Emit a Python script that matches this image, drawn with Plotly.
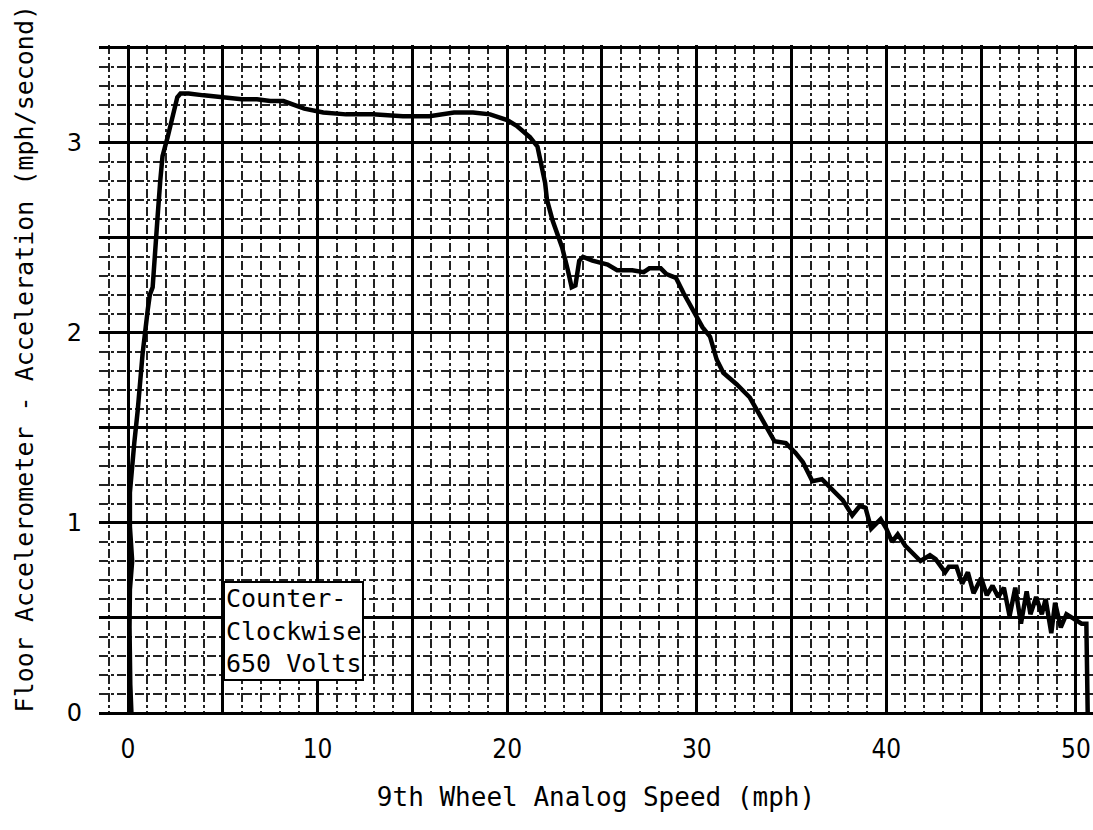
import plotly.graph_objects as go

# 9th wheel analog speed (mph)
speed_mph = [
    0.18, 0.12, 0.08, 0.10, 0.22, 0.18, 0.10, 0.10, 0.20, 0.33,
    0.51, 0.77, 1.04, 1.15, 1.30, 1.38, 1.47, 1.56, 1.70, 1.82,
    2.09, 2.35, 2.60, 2.77, 3.2, 4.0, 5.05, 6.0, 6.8, 7.5,
    8.2, 8.8, 9.3, 10.3, 11.5, 12.9, 14.5, 15.9, 16.5, 17.2,
    18.2, 19.1, 20.0, 20.5, 21.2, 21.6, 22.0, 22.1, 22.4, 22.9,
    23.2, 23.4, 23.6, 23.8, 24.0, 24.5, 25.3, 25.8, 26.6, 27.2,
    27.5, 28.1, 28.4, 28.9, 29.3, 29.8, 30.3, 30.7, 31.05, 31.4,
    32.1, 32.8, 33.3, 33.8, 34.1, 34.7, 35.2, 35.6, 36.1, 36.6,
    37.2, 37.7, 38.2, 38.6, 38.9, 39.2, 39.7, 40.0, 40.3, 40.6,
    41.0, 41.8, 42.3, 42.6, 43.1, 43.3, 43.7, 44.0, 44.3, 44.6,
    45.0, 45.3, 45.6, 45.9, 46.2, 46.5, 46.8, 47.1, 47.4, 47.6,
    47.9, 48.2, 48.4, 48.7, 48.9, 49.2, 49.5, 50.0, 50.3, 50.55,
    50.6, 50.62,
]

# Floor accelerometer acceleration (mph/second)
accel_mphps = [
    0.0, 0.15, 0.45, 0.65, 0.8, 0.9, 0.98, 1.16, 1.3, 1.42,
    1.59, 1.89, 2.12, 2.2, 2.24, 2.38, 2.5, 2.61, 2.8, 2.93,
    3.03, 3.14, 3.24, 3.26, 3.26, 3.25, 3.24, 3.23, 3.23, 3.22,
    3.22, 3.20, 3.18, 3.16, 3.15, 3.15, 3.14, 3.14, 3.15, 3.16,
    3.16, 3.15, 3.12, 3.09, 3.03, 2.98, 2.79, 2.70, 2.59, 2.45,
    2.33, 2.24, 2.25, 2.38, 2.40, 2.38, 2.36, 2.33, 2.33, 2.32,
    2.34, 2.34, 2.31, 2.29, 2.21, 2.12, 2.03, 1.98, 1.86, 1.79,
    1.73, 1.66, 1.57, 1.48, 1.43, 1.42, 1.37, 1.32, 1.22, 1.23,
    1.17, 1.12, 1.04, 1.09, 1.08, 0.97, 1.02, 0.97, 0.90, 0.94,
    0.88, 0.80, 0.83, 0.81, 0.74, 0.77, 0.77, 0.68, 0.74, 0.63,
    0.71, 0.62, 0.67, 0.61, 0.66, 0.51, 0.66, 0.47, 0.64, 0.52,
    0.61, 0.52, 0.60, 0.42, 0.58, 0.45, 0.52, 0.49, 0.47, 0.47,
    0.25, 0.0,
]

x_tickvals = [0, 5, 10, 15, 20, 25, 30, 35, 40, 45, 50]
x_ticktext = ["0", "", "10", "", "20", "", "30", "", "40", "", "50"]
y_tickvals = [0, 0.5, 1, 1.5, 2, 2.5, 3, 3.5]
y_ticktext = ["0", "", "1", "", "2", "", "3", ""]

label_lines = ["Counter-", "Clockwise", "650 Volts"]
x_title = "9th Wheel Analog Speed (mph)"
y_title = "Floor Accelerometer - Acceleration (mph/second)"

mono = "DejaVu Sans Mono"

fig = go.Figure()
fig.add_trace(go.Scatter(
    x=speed_mph, y=accel_mphps, mode="lines",
    line=dict(color="black", width=4.5),
    showlegend=False, hoverinfo="skip",
))

fig.update_layout(
    width=1093, height=830,
    margin=dict(l=99, r=0, t=45, b=117),
    paper_bgcolor="white", plot_bgcolor="white",
    xaxis=dict(
        range=[-1.53, 50.9],
        tickmode="array", tickvals=x_tickvals, ticktext=x_ticktext,
        showgrid=True, gridcolor="black", gridwidth=3,
        zeroline=False, showline=False, ticks="",
        tickfont=dict(family="DejaVu Sans Condensed", size=26, color="black"),
        ticklabelstandoff=18,
        minor=dict(dtick=1, showgrid=True, gridcolor="#222",
                   gridwidth=1.5, griddash="dashdot"),
        title=dict(text=x_title,
                   font=dict(family=mono, size=26, color="black"),
                   standoff=24),
    ),
    yaxis=dict(
        range=[0, 3.515],
        tickmode="array", tickvals=y_tickvals, ticktext=y_ticktext,
        showgrid=True, gridcolor="black", gridwidth=3,
        zeroline=True, zerolinecolor="black", zerolinewidth=3,
        showline=False, ticks="",
        tickfont=dict(family="DejaVu Sans", size=24, color="black"),
        ticklabelstandoff=16,
        minor=dict(dtick=0.1, showgrid=True, gridcolor="#222",
                   gridwidth=1.5, griddash="dashdot"),
    ),
)

# y-axis title placed as rotated annotation (matches reference offset)
fig.add_annotation(
    xref="paper", yref="paper", x=-0.074, y=0.53,
    xanchor="center", yanchor="middle", textangle=-90,
    text=y_title, showarrow=False,
    font=dict(family=mono, size=25, color="black"),
)

fig.add_annotation(
    x=5, y=0.43, xref="x", yref="y",
    xanchor="left", yanchor="middle",
    text="<br>".join(label_lines), align="left", showarrow=False,
    font=dict(family=mono, size=25, color="black"),
    bgcolor="white", bordercolor="black", borderwidth=2, borderpad=1,
)

fig.write_html("out.html")
